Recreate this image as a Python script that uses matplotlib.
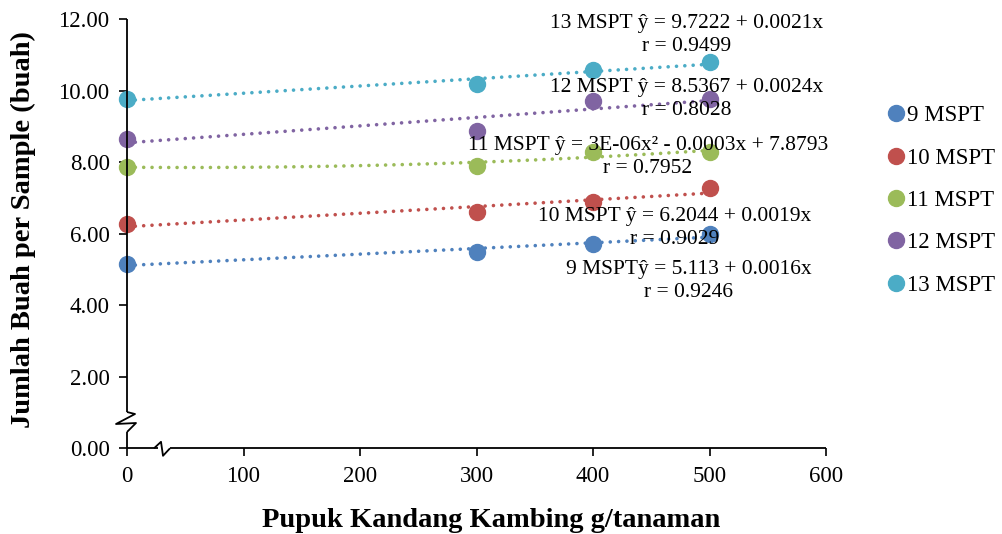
import matplotlib
matplotlib.use('Agg')
import matplotlib.pyplot as plt
import numpy as np
from matplotlib.lines import Line2D

plt.rcParams['font.family'] = ['Liberation Serif', 'DejaVu Serif']

# dosis pupuk kandang kambing (g/tanaman)
dosis = [0, 300, 400, 500]

# jumlah buah per sampel tiap umur pengamatan
buah_9 = [5.16, 5.49, 5.72, 5.99]
buah_10 = [6.27, 6.61, 6.90, 7.27]
buah_11 = [7.87, 7.91, 8.28, 8.28]
buah_12 = [8.65, 8.88, 9.72, 9.77]
buah_13 = [9.78, 10.19, 10.58, 10.80]

labels = ['9 MSPT', '10 MSPT', '11 MSPT', '12 MSPT', '13 MSPT']
colors = ['#4F81BD', '#C0504D', '#9BBB59', '#8064A2', '#4BACC6']
orders = [1, 1, 2, 1, 1]

persamaan = [
    '9 MSPTŷ = 5.113 + 0.0016x\nr = 0.9246',
    '10 MSPT ŷ = 6.2044 + 0.0019x\nr = 0.9029',
    '11 MSPT ŷ = 3E-06x² - 0.0003x + 7.8793\nr = 0.7952',
    '12 MSPT ŷ = 8.5367 + 0.0024x\nr = 0.8028',
    '13 MSPT ŷ = 9.7222 + 0.0021x\nr = 0.9499',
]
# posisi teks persamaan (koordinat data)
pos_teks = [(482.1, 4.69), (470.0, 6.17), (447.2, 8.14), (480.4, 9.77), (480.4, 11.55)]

W, H = 1002, 534
fig = plt.figure(figsize=(W / 100, H / 100), dpi=100)
ax = fig.add_axes([127 / W, (H - 448.3) / H, (826 - 127) / W, (448.3 - 19.3) / H])
ax.set_xlim(0, 600)
ax.set_ylim(0, 12)

series = [buah_9, buah_10, buah_11, buah_12, buah_13]
xs = np.linspace(0, 500, 200)
for y, c, deg in zip(series, colors, orders):
    coef = np.polyfit(dosis, y, deg)
    ax.plot(xs, np.polyval(coef, xs), color=c, lw=2.6,
            linestyle=(0, (0.01, 2.3)), dash_capstyle='round', zorder=2)
for y, c in zip(series, colors):
    ax.plot(dosis, y, 'o', color=c, ms=11.5, mec=c, clip_on=False, zorder=3)

for txt, (tx, ty) in zip(persamaan, pos_teks):
    ax.text(tx, ty, txt, ha='center', va='center', fontsize=15.5,
            multialignment='center', linespacing=1.3, zorder=4)

ax.set_xticks(np.arange(0, 601, 100))
ax.set_yticks(np.arange(0, 12.1, 2))
ax.set_yticklabels(['%.2f' % v for v in np.arange(0, 12.1, 2)])
ax.tick_params(direction='out', length=5.5, width=1.2, labelsize=16.5, pad=7)
for s in ax.spines.values():
    s.set_visible(False)

# sumbu dengan tanda patah
px = 600 / (826 - 127)
py = 12 / (448.3 - 19.3)
kw = dict(color='black', lw=1.3, clip_on=False, solid_capstyle='butt', zorder=5)
yb = 412
ax.plot([0, 0], [12, (448.3 - yb) * py], **kw)
ax.plot(np.array([0, 8, -11, 9, 0]) * px,
        (448.3 - np.array([yb, yb + 2, yb + 12, yb + 11, yb + 20])) * py, **kw)
ax.plot([0, 0], [(448.3 - yb - 20) * py, 0], **kw)
ax.plot([0, 154 - 127], [0, 0], **kw)
ax.plot((np.array([154, 161, 163, 170]) - 127) * px,
        np.array([0, 6.5, -7.5, 0]) * py, **kw)
ax.plot([(170 - 127) * px, 600], [0, 0], **kw)

ax.set_xlabel('Pupuk Kandang Kambing g/tanaman', fontsize=20.5, fontweight='bold')
ax.set_ylabel('Jumlah Buah per Sample (buah)', fontsize=20.5, fontweight='bold')
ax.xaxis.set_label_coords(0.521, -0.14)
ax.yaxis.set_label_coords(-0.13, 0.511)

handles = [Line2D([], [], ls='none', marker='o', ms=11.5, color=c) for c in colors]
fig.legend(handles, labels, loc='center left', bbox_to_anchor=(878 / W, (H - 200.5) / H),
           frameon=False, fontsize=16.5, handlelength=0.6, handletextpad=0.15,
           labelspacing=0.93, borderpad=0)

fig.savefig('out.png', dpi=100)
